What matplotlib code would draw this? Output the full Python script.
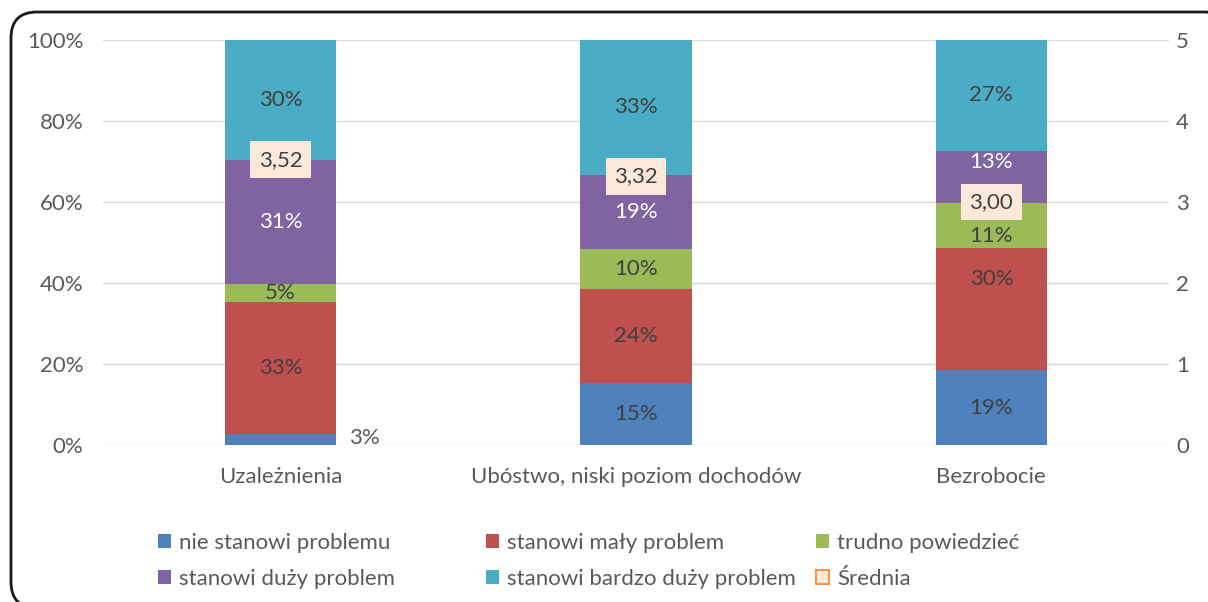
import numpy as np
import matplotlib
matplotlib.use('Agg')
import matplotlib.pyplot as plt
from matplotlib.patches import FancyBboxPatch, Patch

plt.rcParams['font.family'] = ['Lato', 'DejaVu Sans']

categories = ['Uzależnienia', 'Ubóstwo, niski poziom dochodów', 'Bezrobocie']
series_names = ['nie stanowi problemu', 'stanowi mały problem', 'trudno powiedzieć',
                'stanowi duży problem', 'stanowi bardzo duży problem']
# udzialy w procentach
nie_stanowi = [2.7, 15.3, 18.5]
maly = [32.6, 23.2, 30.1]
trudno = [4.5, 9.9, 11.2]
duzy = [30.6, 18.3, 12.8]
bardzo_duzy = [29.6, 33.3, 27.4]
# etykiety tak jak na wykresie
labels = [['3%', '15%', '19%'],
          ['33%', '24%', '30%'],
          ['5%', '10%', '11%'],
          ['31%', '19%', '13%'],
          ['30%', '33%', '27%']]
srednia = [3.52, 3.32, 3.00]
srednia_txt = ['3,52', '3,32', '3,00']

colors = ['#4F81BD', '#C0504D', '#9BBB59', '#8064A2', '#4BACC6']
label_colors = ['#404040', '#404040', '#404040', 'white', '#404040']
txt_gray = '#595959'
fs = 16

fig = plt.figure(figsize=(12.08, 6.02), dpi=100)
ax = fig.add_axes([103/1208, 1-445/602, (1169-103)/1208, 405/602])
ax2 = ax.twinx()

x = np.arange(len(categories))
data = [nie_stanowi, maly, trudno, duzy, bardzo_duzy]
bottom = np.zeros(len(categories))
w = 0.313
# przesuniete etykiety (jak w oryginale, Bezrobocie)
shift = {(1, 2): 7.5, (2, 2): -2.7, (3, 2): 3.6}
for i, vals in enumerate(data):
    vals = np.array(vals)
    ax.bar(x, vals, w, bottom=bottom, color=colors[i], zorder=2)
    for j in range(len(categories)):
        cy = bottom[j] + vals[j]/2 + shift.get((i, j), 0)
        cx = x[j]
        if i == 0 and j == 0:
            # maly odcinek - etykieta obok slupka
            ax.text(cx + w/2 + 0.035, cy + 0.3, labels[i][j], ha='left', va='center',
                    fontsize=fs, color=txt_gray, zorder=3)
            continue
        ax.text(cx, cy, labels[i][j], ha='center', va='center', fontsize=fs,
                color=label_colors[i], zorder=3)
    bottom += vals

ax.set_xlim(-0.5, 2.5)
ax.set_ylim(0, 100)
ax.set_yticks(np.arange(0, 101, 20))
ax.set_yticklabels([f'{v}%' for v in range(0, 101, 20)])
ax.set_xticks(x)
ax.set_xticklabels(categories)
ax.grid(axis='y', color='#D9D9D9', lw=1, zorder=0)
ax.set_axisbelow(True)

ax2.set_ylim(0, 5)
ax2.set_yticks(range(6))
for a in (ax, ax2):
    for s in a.spines.values():
        s.set_visible(False)
    a.tick_params(length=0, labelsize=fs, colors=txt_gray)
ax.tick_params(axis='y', pad=14)
ax.tick_params(axis='x', pad=15.5)
ax2.tick_params(axis='y', pad=5)

ax2.plot(x, srednia, ls='none')
for j in range(len(categories)):
    ax2.text(x[j], srednia[j], srednia_txt[j], ha='center', va='center', fontsize=fs,
             color='#404040', zorder=5,
             bbox=dict(boxstyle='square,pad=0.38', fc='#FDE9D9', ec='none'))

# legenda: trzy kolumny
h = [Patch(fc=c) for c in colors]
h_sr = Patch(fc='#FDE9D9', ec='#F79646', lw=1.5)
cols = [([h[0], h[3]], [series_names[0], series_names[3]], 158),
        ([h[1], h[4]], [series_names[1], series_names[4]], 486),
        ([h[2], h_sr], [series_names[2], 'Średnia'], 816)]
for hh, ll, px in cols:
    fig.legend(hh, ll, loc='upper left', bbox_to_anchor=(px/1208, 1-533/602),
               frameon=False, fontsize=fs, handlelength=0.6, handleheight=0.6,
               handletextpad=0.35, labelspacing=0.7, labelcolor=txt_gray,
               borderpad=0, borderaxespad=0)

# zaokraglona ramka (w pikselach)
frame = FancyBboxPatch((11, -6), 1222, 596,
                       boxstyle='round,pad=0,rounding_size=26',
                       transform=None, fc='none', ec='#1a1a1a', lw=2)
fig.patches.append(frame)

fig.savefig('out.png', dpi=100)
